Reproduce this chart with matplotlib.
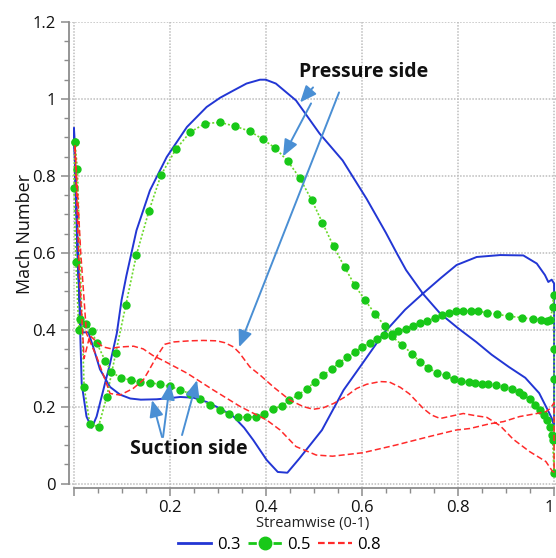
import matplotlib

matplotlib.use("Agg")
import matplotlib.pyplot as plt
from matplotlib.lines import Line2D
from matplotlib.ticker import MultipleLocator, FuncFormatter

plt.rcParams["font.family"] = ["Open Sans", "DejaVu Sans"]

# Mach 0.3: suction side LE->TE, trailing edge, pressure side TE->LE
M03_X = [0.001, 0.008, 0.016, 0.031, 0.041, 0.055, 0.076, 0.097, 0.118, 0.14, 0.173,
         0.20, 0.222, 0.25, 0.277, 0.305, 0.333, 0.355, 0.374, 0.402, 0.425, 0.445,
         0.47, 0.517, 0.562, 0.60, 0.645, 0.69, 0.728, 0.765, 0.797, 0.839, 0.888,
         0.936, 0.964, 0.981, 0.988, 0.995, 1.0, 1.0,
         0.995, 0.99, 0.969, 0.94, 0.906, 0.87, 0.838, 0.80, 0.763, 0.728, 0.692,
         0.673, 0.65, 0.61, 0.56, 0.512, 0.463, 0.421, 0.40, 0.388, 0.36, 0.333,
         0.305, 0.277, 0.236, 0.194, 0.159, 0.131, 0.11, 0.1, 0.09, 0.076, 0.062,
         0.048, 0.038, 0.027, 0.017, 0.008, 0.001]
M03_Y = [0.923, 0.60, 0.393, 0.393, 0.355, 0.297, 0.251, 0.231, 0.221, 0.218, 0.219,
         0.222, 0.225, 0.223, 0.212, 0.195, 0.174, 0.145, 0.113, 0.061, 0.03, 0.028,
         0.065, 0.139, 0.243, 0.31, 0.39, 0.452, 0.495, 0.535, 0.568, 0.589, 0.594,
         0.593, 0.572, 0.542, 0.524, 0.53, 0.52, 0.15,
         0.17, 0.183, 0.235, 0.275, 0.303, 0.335, 0.368, 0.404, 0.442, 0.492, 0.555,
         0.598, 0.652, 0.74, 0.84, 0.91, 0.996, 1.04, 1.05, 1.05, 1.04, 1.022,
         1.003, 0.979, 0.927, 0.849, 0.762, 0.658, 0.54, 0.477, 0.39, 0.312, 0.243,
         0.174, 0.145, 0.174, 0.26, 0.65, 0.923]

# Mach 0.5 (markers are the data points)
M05_X = [0.003, 0.001, 0.005, 0.011, 0.0135, 0.026, 0.038, 0.048, 0.066, 0.079, 0.098,
         0.119, 0.138, 0.159, 0.179, 0.2, 0.222, 0.242, 0.263, 0.284, 0.305, 0.324,
         0.343, 0.362, 0.38, 0.397, 0.416, 0.433, 0.449, 0.468, 0.485, 0.503, 0.52,
         0.537, 0.553, 0.57, 0.586, 0.60, 0.617, 0.632, 0.646, 0.662, 0.676, 0.692,
         0.707, 0.721, 0.736, 0.752, 0.766, 0.781, 0.795, 0.811, 0.827, 0.842, 0.86,
         0.881, 0.907, 0.933, 0.956, 0.972, 0.985, 0.992, 0.997, 0.999,
         1.0, 1.0, 1.0,
         0.997, 0.995, 0.992, 0.986, 0.979, 0.971, 0.96, 0.95, 0.936, 0.926, 0.912,
         0.895, 0.879, 0.863, 0.85, 0.836, 0.822, 0.807, 0.791, 0.775, 0.757, 0.738,
         0.721, 0.704, 0.684, 0.662, 0.648, 0.627, 0.607, 0.585, 0.564, 0.541, 0.518,
         0.496, 0.471, 0.446, 0.42, 0.394, 0.367, 0.336, 0.305, 0.274, 0.243, 0.213,
         0.182, 0.157, 0.131, 0.109, 0.088, 0.069, 0.052, 0.034, 0.022, 0.008, 0.003]
M05_Y = [0.888, 0.768, 0.576, 0.398, 0.429, 0.416, 0.396, 0.366, 0.319, 0.29, 0.275,
         0.269, 0.263, 0.262, 0.258, 0.253, 0.243, 0.234, 0.219, 0.204, 0.191, 0.18,
         0.174, 0.172, 0.174, 0.182, 0.195, 0.201, 0.217, 0.23, 0.247, 0.264, 0.282,
         0.297, 0.314, 0.329, 0.342, 0.355, 0.366, 0.377, 0.387, 0.39, 0.396, 0.403,
         0.41, 0.418, 0.423, 0.43, 0.438, 0.444, 0.448, 0.449, 0.449, 0.448, 0.444,
         0.44, 0.435, 0.431, 0.428, 0.426, 0.423, 0.425, 0.459, 0.49,
         0.351, 0.273, 0.027,
         0.113, 0.126, 0.148, 0.165, 0.178, 0.191, 0.204, 0.219, 0.23, 0.238, 0.247,
         0.251, 0.255, 0.258, 0.259, 0.261, 0.263, 0.266, 0.271, 0.281, 0.287, 0.301,
         0.316, 0.338, 0.36, 0.383, 0.409, 0.442, 0.476, 0.516, 0.563, 0.617, 0.678,
         0.736, 0.794, 0.838, 0.872, 0.895, 0.916, 0.929, 0.939, 0.936, 0.914, 0.869,
         0.802, 0.709, 0.595, 0.465, 0.34, 0.225, 0.148, 0.154, 0.252, 0.817, 0.888]

# Mach 0.8
M08_X = [0.003, 0.012, 0.022, 0.034, 0.048, 0.062, 0.076, 0.097, 0.125, 0.145, 0.165,
         0.186, 0.236, 0.291, 0.347, 0.402, 0.43, 0.463, 0.505, 0.539, 0.602, 0.671,
         0.74, 0.796, 0.825, 0.865, 0.895, 0.928, 0.964, 0.983, 0.992, 1.0, 1.0,
         0.997, 0.983, 0.949, 0.915, 0.888, 0.86, 0.838, 0.811, 0.785, 0.763, 0.745,
         0.728, 0.699, 0.68, 0.657, 0.638, 0.61, 0.589, 0.565, 0.541, 0.52, 0.499,
         0.478, 0.45, 0.416, 0.39, 0.367, 0.345, 0.333, 0.315, 0.298, 0.27, 0.242,
         0.208, 0.19, 0.173, 0.155, 0.145, 0.124, 0.097, 0.076, 0.066, 0.048, 0.027,
         0.015, 0.003]
M08_Y = [0.88, 0.55, 0.325, 0.385, 0.368, 0.355, 0.351, 0.355, 0.357, 0.35, 0.333,
         0.32, 0.287, 0.243, 0.2, 0.165, 0.139, 0.096, 0.074, 0.071, 0.08, 0.1,
         0.122, 0.139, 0.143, 0.155, 0.161, 0.174, 0.182, 0.187, 0.195, 0.21, 0.03,
         0.031, 0.057, 0.083, 0.115, 0.15, 0.172, 0.176, 0.182, 0.175, 0.169, 0.178,
         0.195, 0.233, 0.25, 0.264, 0.265, 0.258, 0.247, 0.225, 0.208, 0.197, 0.193,
         0.2, 0.217, 0.251, 0.28, 0.303, 0.34, 0.355, 0.366, 0.371, 0.372, 0.371,
         0.368, 0.362, 0.33, 0.29, 0.269, 0.247, 0.23, 0.234, 0.269, 0.33, 0.39,
         0.6, 0.88]

SERIES = ["0.3", "0.5", "0.8"]

BLUE = "#2236d4"
GREEN_LINE = "#6ad82a"
GREEN = "#18c818"
RED = "#ff2a2a"
ARROW = "#4a8fd4"
GRAY = "#8c8c8c"


def px(x, y):
    # picture pixel -> data coords (x=0 at 73.5px, 1 at 554px; y=0 at 483.5px, 0.2 per 77px)
    return (x - 73.5) / 480.5, (483.5 - y) / 385.0


fig = plt.figure(figsize=(5.56, 5.58), dpi=100)
ax = fig.add_axes([69 / 556, 70 / 558, 487 / 556, 466 / 558])

ax.plot(M03_X, M03_Y, color=BLUE, lw=1.4, solid_joinstyle="round")
ax.plot(M05_X, M05_Y, color=GREEN_LINE, lw=1.2, ls=(0, (1.2, 1.2)),
        marker="o", ms=5, mfc=GREEN, mec=GREEN)
ax.plot(M08_X, M08_Y, color=RED, lw=1.1, ls=(0, (4, 2)))

ax.set_xlim(-0.0094, 1.004)
ax.set_ylim(-0.0117, 1.2)
ax.xaxis.set_major_locator(MultipleLocator(0.2))
ax.xaxis.set_minor_locator(MultipleLocator(0.05))
ax.yaxis.set_major_locator(MultipleLocator(0.2))
ax.yaxis.set_minor_locator(MultipleLocator(0.05))
ax.xaxis.set_major_formatter(FuncFormatter(lambda v, p: "" if abs(v) < 1e-9 else f"{v:g}"))
ax.yaxis.set_major_formatter(FuncFormatter(lambda v, p: f"{v:g}"))
ax.grid(True, which="major", color="#bdbdbd", lw=1.1, ls=(0, (1, 1)))
ax.set_axisbelow(True)

for s in ("top", "right"):
    ax.spines[s].set_visible(False)
for s in ("left", "bottom"):
    ax.spines[s].set_color(GRAY)
    ax.spines[s].set_linewidth(1.3)
ax.spines["left"].set_bounds(0, 1.2)
ax.spines["bottom"].set_bounds(0, 1.0)
ax.tick_params(which="major", length=6, width=1.1, color=GRAY, labelsize=12,
               labelcolor="#111111")
ax.tick_params(which="minor", length=3.5, width=1.0, color=GRAY)
ax.tick_params(axis="x", pad=3)

ax.set_ylabel("Mach Number", fontsize=13, color="#111111")
ax.yaxis.set_label_coords(-0.072, 0.545)
ax.set_xlabel("Streamwise (0-1)", fontsize=10.5, labelpad=0, color="#222222")

# annotations
arrow_kw = dict(arrowstyle="-|>,head_length=1.0,head_width=0.42", color=ARROW, lw=1.4,
                mutation_scale=10, shrinkA=0, shrinkB=0)
for (x0, y0), (x1, y1) in [((313, 87), (300, 102)), ((311, 103), (283, 156)),
                           ((339, 92), (239, 347)),
                           ((162, 437), (152, 400)), ((163, 437), (170, 383)),
                           ((182, 435), (197, 380))]:
    ax.annotate("", xy=px(x1, y1), xytext=px(x0, y0), arrowprops=arrow_kw)

ax.text(*px(364, 72), "Pressure side", ha="center", va="center", fontsize=14,
        fontweight="bold", color="#111111")
ax.text(*px(189, 449), "Suction side", ha="center", va="center", fontsize=14,
        fontweight="bold", color="#111111")

handles = [Line2D([], [], color=BLUE, lw=2),
           Line2D([], [], color=GREEN, lw=2, ls=(0, (3, 1.5)), marker="o", ms=9),
           Line2D([], [], color=RED, lw=1.6, ls=(0, (3, 1.5)))]
fig.legend(handles, SERIES, loc="center", bbox_to_anchor=(0.503, 0.024), ncol=3,
           frameon=False, fontsize=12, handlelength=2.0, handletextpad=0.35,
           columnspacing=0.45)

# the "1" sits on the right edge; keep it inside the picture
fig.canvas.draw()
for lab in ax.get_xticklabels():
    if lab.get_text() == "1":
        lab.set_horizontalalignment("right")

fig.savefig("out.png", dpi=100)
